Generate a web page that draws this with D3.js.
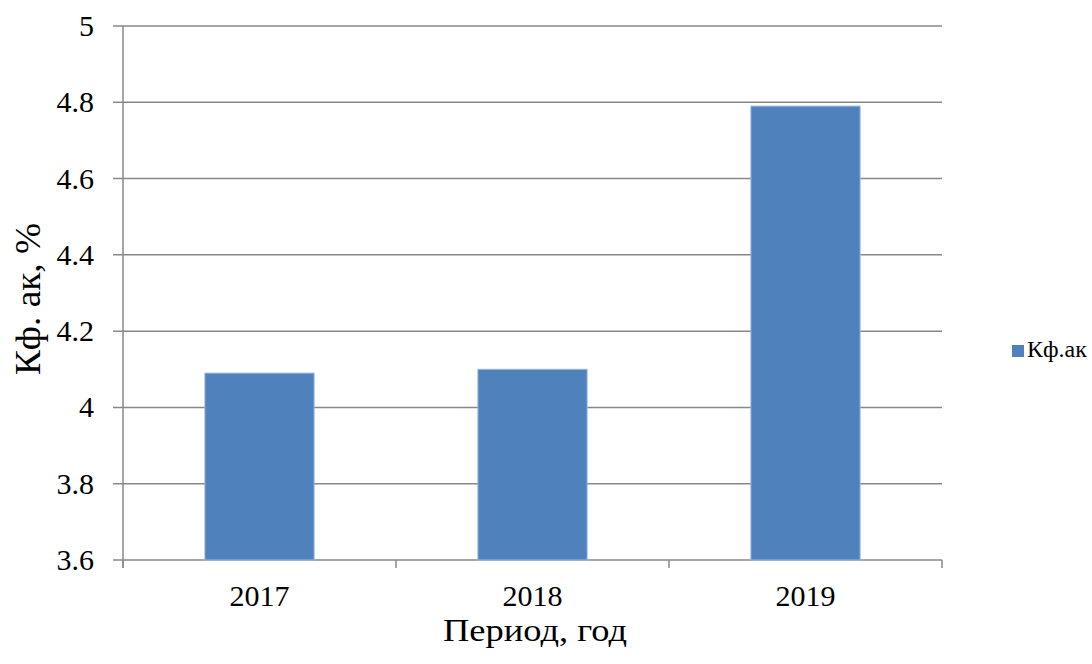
<!DOCTYPE html>
<html>
<head>
<meta charset="utf-8">
<script src="https://cdn.jsdelivr.net/npm/d3@7"></script>
<style>
  html, body { margin: 0; padding: 0; background: #fff; }
  svg { display: block; }
</style>
</head>
<body>
<svg id="chart" width="1092" height="664" font-family="'Liberation Serif', 'Times New Roman', serif"></svg>
<script>
const categories = ["2017", "2018", "2019"];
const values = [4.09, 4.10, 4.79];
const yTicks = [3.6, 3.8, 4, 4.2, 4.4, 4.6, 4.8, 5];
const seriesName = "Кф.ак";
const xTitle = "Период, год";
const yTitle = "Кф. ак, %";

const FONT = "'Liberation Serif', 'Times New Roman', serif";
const svg = d3.select("#chart");
const pLeft = 123, pRight = 942, pTop = 26, pBottom = 560;

const x = d3.scaleBand().domain(categories).range([pLeft, pRight]).paddingInner(0.6).paddingOuter(0.3);
const y = d3.scaleLinear().domain([3.6, 5]).range([pBottom, pTop]);

const grid = "#888888";

// gridlines
svg.append("g").selectAll("line").data(yTicks).join("line")
  .attr("x1", pLeft - 10).attr("x2", pRight)
  .attr("y1", d => y(d)).attr("y2", d => y(d))
  .attr("stroke", grid).attr("stroke-width", 1.5);

// y axis line
svg.append("line").attr("x1", pLeft).attr("x2", pLeft)
  .attr("y1", pTop).attr("y2", pBottom + 8)
  .attr("stroke", grid).attr("stroke-width", 1.5);

// x category boundary ticks
const bounds = [pLeft, ...categories.slice(1).map(c => x(c) - x.step() * x.paddingInner() / 2), pRight];
svg.append("g").selectAll("line").data(bounds).join("line")
  .attr("x1", d => d).attr("x2", d => d)
  .attr("y1", pBottom).attr("y2", pBottom + 8)
  .attr("stroke", grid).attr("stroke-width", 1.5);

// bars
svg.append("g").selectAll("rect").data(values).join("rect")
  .attr("x", (d, i) => x(categories[i]))
  .attr("width", x.bandwidth())
  .attr("y", d => y(d))
  .attr("height", d => y(3.6) - y(d))
  .attr("fill", "#4F81BD")
  .attr("stroke", "#9DB8DC").attr("stroke-width", 1);

// y tick labels
svg.append("g").selectAll("text").data(yTicks).join("text")
  .attr("x", 94).attr("y", d => y(d) + 10)
  .attr("text-anchor", "end")
  .attr("font-family", FONT)
  .attr("font-size", 30)
  .attr("fill", "#000")
  .text(d => d3.format("~g")(d));

// x tick labels
svg.append("g").selectAll("text").data(categories).join("text")
  .attr("x", d => x(d) + x.bandwidth() / 2).attr("y", 606)
  .attr("text-anchor", "middle")
  .attr("font-family", FONT)
  .attr("font-size", 30)
  .attr("fill", "#000")
  .text(d => d);

// x title
svg.append("text").attr("x", 535).attr("y", 641)
  .attr("text-anchor", "middle")
  .attr("font-family", FONT).attr("font-size", 31).attr("fill", "#000")
  .attr("textLength", 184).attr("lengthAdjust", "spacingAndGlyphs")
  .text(xTitle);

// y title
svg.append("text").attr("transform", "translate(40,299) rotate(-90)")
  .attr("text-anchor", "middle")
  .attr("font-family", FONT).attr("font-size", 36).attr("fill", "#000")
  .attr("textLength", 152).attr("lengthAdjust", "spacingAndGlyphs")
  .text(yTitle);

// legend
svg.append("rect").attr("x", 1012).attr("y", 345).attr("width", 12).attr("height", 12).attr("fill", "#4F81BD");
svg.append("text").attr("x", 1027).attr("y", 357)
  .attr("font-family", FONT).attr("font-size", 24).attr("fill", "#000")
  .text(seriesName);
</script>
</body>
</html>
